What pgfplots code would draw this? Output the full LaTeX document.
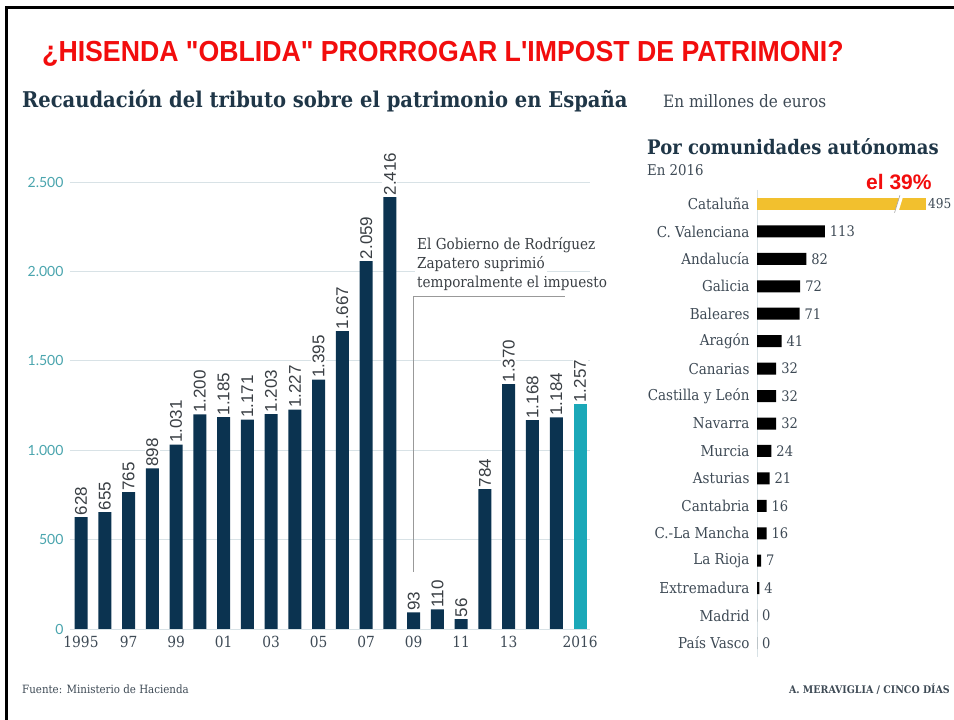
\documentclass[border=0pt]{standalone}
\usepackage{fontspec}
\usepackage{pgfplots}
\pgfplotsset{compat=1.18}
\setmainfont{DejaVu Serif}[FakeStretch=0.9]
\newfontfamily\sansf{Liberation Sans}
\newfontfamily\titlef{Liberation Sans}[FakeStretch=0.92]
\newfontfamily\tickf{Lato}
\definecolor{navy}{HTML}{0B3350}
\definecolor{tealbar}{HTML}{1BA8B8}
\definecolor{yellowc}{HTML}{F2C02E}
\definecolor{gridc}{HTML}{D8E2E6}
\definecolor{tealtxt}{HTML}{4AA5AE}
\definecolor{headc}{HTML}{1F3647}
\definecolor{labgray}{HTML}{3A3F44}
\definecolor{txtgray}{HTML}{3E4A55}
\definecolor{redc}{HTML}{F20D0D}
\begin{document}
\begin{tikzpicture}[x=1pt,y=1pt]
\useasboundingbox (0,0) rectangle (954,720);
\fill[white] (0,0) rectangle (954,720);
\draw[black, line width=3pt] (6,0) -- (6,712) -- (954,712);

% titles
\node[anchor=base west, inner sep=0pt, text=redc, font=\titlef\bfseries\fontsize{29}{29}\selectfont] at (42,658) {¿HISENDA "OBLIDA" PRORROGAR L'IMPOST DE PATRIMONI?};
\node[anchor=base west, inner sep=0pt, text=headc, font=\bfseries\fontsize{21.7}{21.7}\selectfont] at (22,612) {Recaudación del tributo sobre el patrimonio en España};
\node[anchor=base west, inner sep=0pt, text=txtgray, font=\fontsize{17}{17}\selectfont] at (663,612) {En millones de euros};
\node[anchor=base west, inner sep=0pt, text=headc, font=\bfseries\fontsize{20}{20}\selectfont] at (647,565) {Por comunidades autónomas};
\node[anchor=base west, inner sep=0pt, text=txtgray, font=\fontsize{14.8}{14.8}\selectfont] at (647,544) {En 2016};
\node[anchor=base west, inner sep=0pt, text=redc, font=\sansf\bfseries\fontsize{21}{21}\selectfont] at (866,530) {el 39\%};

% left chart
\begin{axis}[at={(70pt,91pt)}, anchor=south west, scale only axis,
  width=520pt, height=447pt, xmin=-0.463, xmax=21.42, ymin=0, ymax=2500,
  clip=false, ybar, bar width=13pt, bar shift=0pt,
  axis line style={draw=none}, major tick length=0pt,
  ytick={0,500,1000,1500,2000,2500}, yticklabels={0,500,1.000,1.500,2.000,2.500},
  ymajorgrids, grid style={color=gridc, line width=0.9pt},
  xtick={0,2,4,6,8,10,12,14,16,18,21},
  xticklabels={1995,97,99,01,03,05,07,09,11,13,2016},
  yticklabel style={font=\tickf\fontsize{14}{14}\selectfont, text=tealtxt, xshift=-3pt},
  xticklabel style={font=\fontsize{15.3}{15.3}\selectfont, text=txtgray, yshift=-4pt},
  nodes near coords, point meta=explicit symbolic,
  every node near coord/.append style={rotate=90, anchor=west, font=\sansf\fontsize{17}{17}\selectfont, text=labgray, fill=white, inner sep=1.5pt}]
\addplot[fill=navy, draw=none] table[x=x, y=y, meta=lab] {
x y lab
0 628 628
1 655 655
2 765 765
3 898 898
4 1031 1.031
5 1200 1.200
6 1185 1.185
7 1171 1.171
8 1203 1.203
9 1227 1.227
10 1395 1.395
11 1667 1.667
12 2059 2.059
13 2416 2.416
14 93 93
15 110 110
16 56 56
17 784 784
18 1370 1.370
19 1168 1.168
20 1184 1.184
};
\addplot[fill=tealbar, draw=none] table[x=x, y=y, meta=lab] {
x y lab
21 1257 1.257
};
\draw[gray!80, line width=0.8pt] (axis cs:14,319) -- (axis cs:14,1862) -- (axis cs:20.37,1862);
\end{axis}

\node[anchor=base west, inner sep=2pt, fill=white, text=labgray, font=\fontsize{15.1}{15.1}\selectfont] at (415,470) {El Gobierno de Rodríguez};
\node[anchor=base west, inner sep=2pt, fill=white, text=labgray, font=\fontsize{15.1}{15.1}\selectfont] at (415,451) {Zapatero suprimió};
\node[anchor=base west, inner sep=2pt, fill=white, text=labgray, font=\fontsize{15.1}{15.1}\selectfont] at (415,432) {temporalmente el impuesto};

% right chart
\begin{axis}[at={(757pt,63pt)}, anchor=south west, scale only axis,
  width=197pt, height=467pt, xmin=0, xmax=328, ymin=-0.51, ymax=16.51,
  y dir=reverse, xbar, bar width=12pt, bar shift=0pt, clip=false,
  axis line style={draw=none}, major tick length=0pt,
  ytick={0,1,2,3,4,5,6,7,8,9,10,11,12,13,14,15,16},
  yticklabels={Cataluña,C. Valenciana,Andalucía,Galicia,Baleares,Aragón,Canarias,Castilla y León,Navarra,Murcia,Asturias,Cantabria,C.-La Mancha,La Rioja,Extremadura,Madrid,País Vasco},
  xtick={0}, xticklabels={}, xmajorgrids, grid style={color=gridc, line width=1pt},
  yticklabel style={font=\fontsize{15}{15}\selectfont, text=txtgray, xshift=-4pt},
  nodes near coords, point meta=explicit symbolic,
  every node near coord/.append style={anchor=west, font=\fontsize{14.5}{14.5}\selectfont, text=txtgray, xshift=1.5pt}]
\addplot[fill=yellowc, draw=none, every node near coord/.append style={inner sep=0.5pt, xshift=-0.5pt, font=\fontsize{13.5}{13.5}\selectfont}] table[x=x, y=y, meta=lab] {
x y lab
282 0 495
};
\addplot[fill=black, draw=none] table[x=x, y=y, meta=lab] {
x y lab
113 1 113
82 2 82
72 3 72
71 4 71
41 5 41
32 6 32
32 7 32
32 8 32
24 9 24
21 10 21
16 11 16
16 12 16
7 13 7
4 14 4
0 15 0
0 16 0
};
\draw[white, line width=3.5pt] (axis cs:232,0.32) -- (axis cs:241,-0.32);
\draw[gray!70, line width=0.6pt] (axis cs:229,0.32) -- (axis cs:238,-0.32);
\end{axis}

\node[anchor=base west, inner sep=0pt, text=txtgray, font=\fontsize{11.4}{11.4}\selectfont] at (22,26) {Fuente: Ministerio de Hacienda};
\node[anchor=base east, inner sep=0pt, text=txtgray, font=\bfseries\fontsize{10.5}{10.5}\selectfont] at (950,26) {A. MERAVIGLIA / CINCO DÍAS};
\end{tikzpicture}
\end{document}
